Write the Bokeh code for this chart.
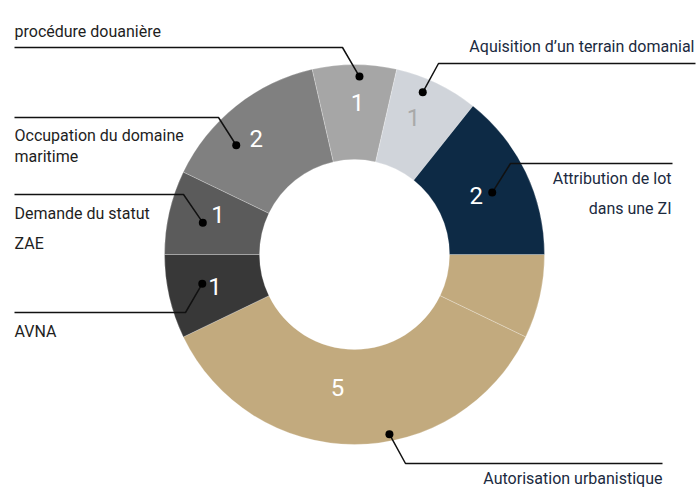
import numpy as np
from bokeh.plotting import figure
from bokeh.models import Range1d, ColumnDataSource
from bokeh.core.properties import value
from bokeh.embed import file_html
from bokeh.resources import INLINE

# ---- data (clockwise from 3 o'clock) ----
categories = ["", "Autorisation urbanistique", "AVNA", "Demande du statut ZAE",
              "Occupation du domaine maritime", "procédure douanière",
              "Aquisition d\u2019un terrain domanial", "Attribution de lot dans une ZI"]
values = [1, 5, 1, 1, 2, 1, 1, 2]
colors = ["#c2aa7e", "#c2aa7e", "#383838", "#5b5b5b", "#808080", "#a6a6a6", "#d0d4da", "#0d2a45"]
label_colors = [None, "white", "white", "white", "white", "white", "#a9a9a9", "white"]

# ---- layout / style ----
W, H = 697, 489
CX, CY = 354, 254          # pie centre in page pixels
R_OUT, R_IN = 190, 95
FONT = value("Roboto")

def px(x):
    return x - CX

def py(y):
    return CY - y

p = figure(width=W, height=H, output_backend="svg", toolbar_location=None,
           x_range=Range1d(-CX, W - CX), y_range=Range1d(CY - H, CY),
           min_border=0)
p.axis.visible = False
p.grid.visible = False
p.outline_line_color = None
p.background_fill_color = "white"

vals = np.array(values, dtype=float)
total = vals.sum()
cum = np.concatenate([[0], np.cumsum(vals)])
theta0 = 90.0  # clockwise-from-12 degrees where first slice starts
th_start = theta0 + cum[:-1] / total * 360
th_end = theta0 + cum[1:] / total * 360
th_mid = (th_start + th_end) / 2

start = np.deg2rad(90 - th_start)
end = np.deg2rad(90 - th_end)

src = ColumnDataSource(dict(start=start, end=end, color=colors))
p.annular_wedge(x=0, y=0, inner_radius=R_IN, outer_radius=R_OUT,
                start_angle="start", end_angle="end", direction="clock",
                fill_color="color", line_color="white", line_alpha=0.35,
                line_width=0.7, source=src)

# value labels and leader dots (polar offsets relative to slice middles)
lab_dth = [0, 7.3, 0, 3.3, -1.7, 1.1, -2.4, 0]
lab_r = [0, 134, 143, 142, 152, 152, 149, 135]
dot_dth = [0, -11, 2, -1, -8.7, 1.6, -2.9, 1.5]
dot_r = [0, 183, 155, 155, 161, 178, 176, 151]

lx, ly, lt, lc = [], [], [], []
dx_, dy_ = [], []
for i in range(len(values)):
    if label_colors[i] is None:
        continue
    a = np.deg2rad(th_mid[i] + lab_dth[i])
    lx.append(lab_r[i] * np.sin(a)); ly.append(lab_r[i] * np.cos(a))
    lt.append(str(values[i])); lc.append(label_colors[i])
    b = np.deg2rad(th_mid[i] + dot_dth[i])
    dx_.append(dot_r[i] * np.sin(b)); dy_.append(dot_r[i] * np.cos(b))

p.text(x=lx, y=ly, text=lt, text_color=lc, text_font=FONT, text_font_size="24px",
       text_align="center", text_baseline="middle")

# leader lines (dot, elbow, end of horizontal run), page pixel coordinates
leaders = [
    ((405, 463), (662, 463)),   # Autorisation
    ((185, 312), (14, 312)),    # AVNA
    ((183, 194), (14, 194)),    # Demande
    ((218, 117), (14, 117)),    # Occupation
    ((342, 47), (14, 47)),      # procédure
    ((438, 63), (695, 63)),     # Aquisition
    ((510, 163), (672, 163)),   # Attribution
]
xs, ys = [], []
for k, (e, f) in enumerate(leaders):
    xs.append([dx_[k], px(e[0]), px(f[0])])
    ys.append([dy_[k], py(e[1]), py(f[1])])
p.multi_line(xs=xs, ys=ys, line_color="#111111", line_width=1.5)
p.scatter(x=dx_, y=dy_, size=8, fill_color="#000000", line_color=None)

# category texts
LEFT = "#1e1e1e"
RIGHT = "#1b2a40"
texts = [
    ("procédure douanière", 14, 31, "left", LEFT),
    ("Occupation du domaine", 14, 135, "left", LEFT),
    ("maritime", 14, 156, "left", LEFT),
    ("Demande du statut", 14, 213, "left", LEFT),
    ("ZAE", 14, 243, "left", LEFT),
    ("AVNA", 14, 331, "left", LEFT),
    ("Aquisition d\u2019un terrain domanial", 694, 46, "right", RIGHT),
    ("Attribution de lot", 671, 178, "right", RIGHT),
    ("dans une ZI", 671, 208, "right", RIGHT),
    ("Autorisation urbanistique", 662, 478, "right", RIGHT),
]
for t, x, y, al, c in texts:
    p.text(x=[px(x)], y=[py(y)], text=[t], text_color=c, text_font=FONT,
           text_font_size="16px", text_align=al, text_baseline="middle")

open("out.html", "w").write(file_html(p, INLINE))
